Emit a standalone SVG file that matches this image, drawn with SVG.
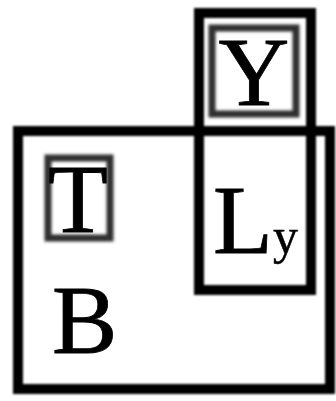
<svg xmlns="http://www.w3.org/2000/svg" width="336" height="401" viewBox="0 0 336 401">
<style>
.box{fill:none;stroke:#000;stroke-width:10;filter:url(#soft)}
.inner{fill:none;stroke:#2e2e2e;stroke-width:7;filter:url(#softer)}
.lbl{font-family:"Liberation Serif","Times New Roman",serif;font-size:98px;fill:#000;stroke:#000;stroke-width:0.8}
</style>
<defs>
<filter id="soft" x="-10%" y="-10%" width="120%" height="120%"><feGaussianBlur stdDeviation="1.1"/></filter>
<filter id="softer" x="-20%" y="-20%" width="140%" height="140%"><feGaussianBlur stdDeviation="1.8"/></filter>
</defs>
<rect width="336" height="401" fill="#fff"/>
<g id="B">
<rect class="box" x="18" y="131" width="312" height="258"/>
<text class="lbl" x="52" y="353">B</text>
</g>
<g id="Ly">
<rect class="box" x="199" y="13" width="112" height="277"/>
<text class="lbl" x="213" y="253">L<tspan font-size="50" stroke-width="0.5">y</tspan></text>
</g>
<g id="Y">
<rect class="inner" x="212" y="28" width="84" height="86"/>
<text class="lbl" x="254" y="105" text-anchor="middle">Y</text>
</g>
<g id="T">
<rect class="inner" x="48" y="158" width="62" height="80"/>
<text class="lbl" x="78" y="232" text-anchor="middle">T</text>
</g>
<g id="connectors"></g>
</svg>
